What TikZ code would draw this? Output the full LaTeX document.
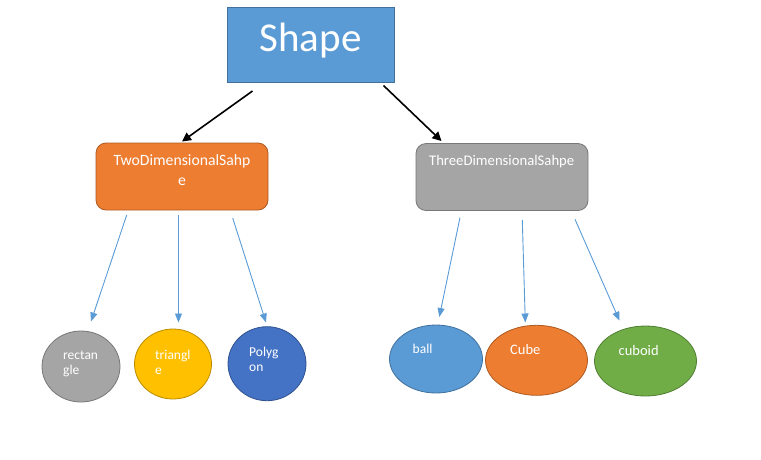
\documentclass[tikz,border=0pt]{standalone}
\usepackage{fontspec}
\setmainfont{Carlito}
\usetikzlibrary{arrows.meta,shapes.geometric}
\definecolor{cblue}{HTML}{5B9BD5}
\definecolor{cblueD}{HTML}{41719C}
\definecolor{corange}{HTML}{ED7D31}
\definecolor{corangeD}{HTML}{AE5A21}
\definecolor{cgray}{HTML}{A5A5A5}
\definecolor{cgrayD}{HTML}{787878}
\definecolor{cyellow}{HTML}{FFC000}
\definecolor{cyellowD}{HTML}{BC8C00}
\definecolor{cdblue}{HTML}{4472C4}
\definecolor{cdblueD}{HTML}{2F528F}
\definecolor{cgreen}{HTML}{70AD47}
\definecolor{cgreenD}{HTML}{507E32}
\tikzset{
  rootbox/.style={draw=cblueD, fill=cblue, line width=0.8pt, minimum width=167pt, minimum height=75pt, inner sep=0pt},
  midbox/.style={rounded corners=10pt, line width=0.8pt, minimum width=172pt, minimum height=67pt, inner sep=0pt},
  oval/.style={ellipse, line width=0.8pt, inner sep=0pt},
  wtext/.style={text=white, inner sep=0pt},
  boxtext/.style={wtext, font=\fontsize{15.7}{20}\selectfont, align=center, anchor=base},
  ovaltext/.style={wtext, font=\fontsize{13.5}{15.5}\selectfont, align=left, anchor=base west},
  blackarrow/.style={line width=1.6pt, -{Triangle[length=9pt,width=9pt]}},
  bluearrow/.style={draw=cblue, line width=0.9pt, -{Triangle[length=9pt,width=7pt]}}
}
\begin{document}
\begin{tikzpicture}[x=1pt,y=-1pt]
\useasboundingbox (0,0) rectangle (761,459);
% root
\node[rootbox] (shape) at (311,44.5) {};
\node[wtext, anchor=base, font=\fontsize{41}{45}\selectfont] (shapeT) at (310.5,51) {Shape};
% level 2
\node[midbox, draw=corangeD, fill=corange] (two) at (182,176.5) {};
\node[boxtext] (twoT) at (182,185) {TwoDimensionalSahp\\e};
\node[midbox, draw=cgrayD, fill=cgray] (three) at (502,177) {};
\node[boxtext, font=\fontsize{14.7}{18}\selectfont] (threeT) at (501.7,165) {ThreeDimensionalSahpe};
% leaves
\node[oval, draw=cgrayD, fill=cgray, minimum width=78pt, minimum height=71pt] (rect) at (81,366.5) {};
\node[ovaltext] (rectT) at (63,374.5) {rectan\\gle};
\node[oval, draw=cyellowD, fill=cyellow, minimum width=77pt, minimum height=70pt] (tri) at (173,364) {};
\node[ovaltext] (triT) at (155,374.5) {triangl\\e};
\node[oval, draw=cdblueD, fill=cdblue, minimum width=78pt, minimum height=74pt] (poly) at (267,363.7) {};
\node[ovaltext] (polyT) at (249,371.5) {Polyg\\on};
\node[oval, draw=cblueD, fill=cblue, minimum width=93pt, minimum height=68pt] (ball) at (436,359) {};
\node[ovaltext] (ballT) at (412.5,353) {ball};
\node[oval, draw=corangeD, fill=corange, minimum width=102pt, minimum height=70pt] (cube) at (536.5,360.3) {};
\node[ovaltext, font=\fontsize{14.5}{16}\selectfont] (cubeT) at (510,354) {Cube};
\node[oval, draw=cgreenD, fill=cgreen, minimum width=102pt, minimum height=70pt] (cuboid) at (645.5,361) {};
\node[ovaltext, font=\fontsize{14.5}{16}\selectfont] (cuboidT) at (618.5,355) {cuboid};
% connector end points
\coordinate (s1) at (252.5,91);
\coordinate (e1) at (182,141.5);
\coordinate (s2) at (383.5,85.5);
\coordinate (e2) at (441.5,141);
\coordinate (a1) at (126.7,215);
\coordinate (b1) at (91,321.5);
\coordinate (a2) at (178.5,215);
\coordinate (b2) at (178.5,322.5);
\coordinate (a3) at (232.7,218);
\coordinate (b3) at (266,322.5);
\coordinate (a4) at (460,217.5);
\coordinate (b4) at (439.3,317);
\coordinate (a5) at (522.3,220);
\coordinate (b5) at (525.3,322.5);
\coordinate (a6) at (575,219.3);
\coordinate (b6) at (619.5,320.7);
% connectors
\draw[blackarrow] (s1) -- (e1);
\draw[blackarrow] (s2) -- (e2);
\draw[bluearrow] (a1) -- (b1);
\draw[bluearrow] (a2) -- (b2);
\draw[bluearrow] (a3) -- (b3);
\draw[bluearrow] (a4) -- (b4);
\draw[bluearrow] (a5) -- (b5);
\draw[bluearrow] (a6) -- (b6);
\end{tikzpicture}
\end{document}
